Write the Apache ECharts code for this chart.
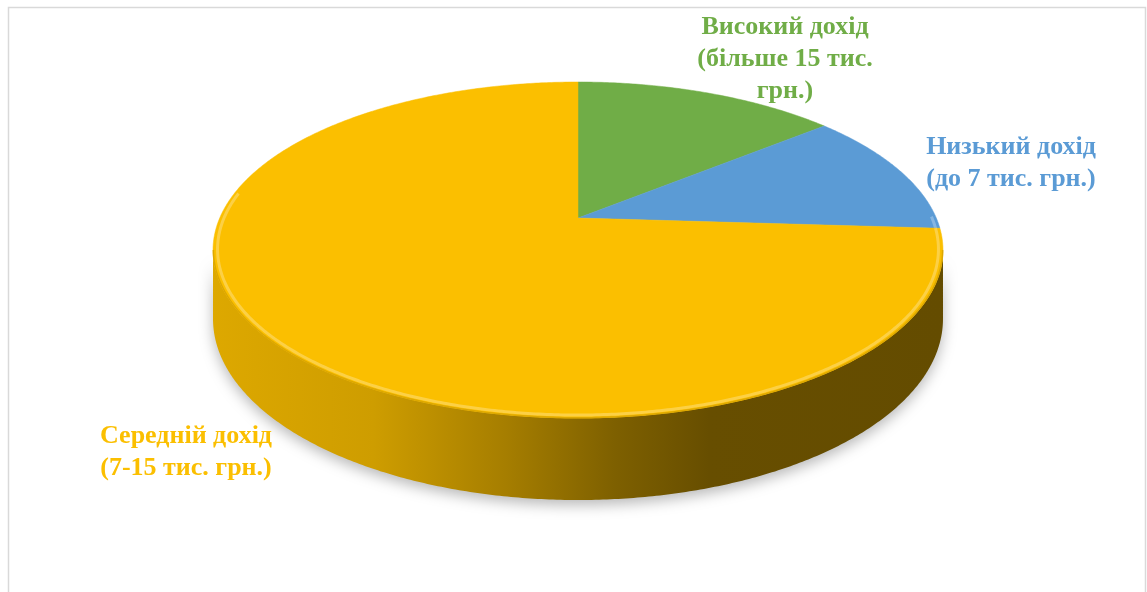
<!DOCTYPE html>
<html>
<head>
<meta charset="utf-8">
<script src="https://cdn.jsdelivr.net/npm/echarts@6/dist/echarts.min.js"></script>
<style>
  html, body { margin: 0; padding: 0; background: #ffffff; }
  #chart { width: 1147px; height: 592px; }
</style>
</head>
<body>
<div id="chart"></div>
<script>
// ---- data ----
const categories = ['Високий дохід (більше 15 тис. грн.)', 'Низький дохід (до 7 тис. грн.)', 'Середній дохід (7-15 тис. грн.)'];
const values = [14, 12, 74];
const labelLines = [
  ['Високий дохід', '(більше 15 тис.', 'грн.)'],
  ['Низький дохід', '(до 7 тис. грн.)'],
  ['Середній дохід', '(7-15 тис. грн.)']
];

// ---- style / layout ----
const colors = ['#70AD47', '#5B9BD5', '#FBBF00'];
const labelPos = [[785, 11], [1011, 131], [186, 420]];
const CX = 578, CY = 218, K = 358.3, M = 161.9, P = 0.1905, D = 66.4;

function proj(a, z, r) {
  r = r == null ? 1 : r;
  const u = r * Math.sin(a), v = r * Math.cos(a);
  const w = 1 + P * v;
  return [CX + K * u / w, CY - M * v / w + D * z / w];
}
function arc(a0, a1, z, r) {
  const pts = [];
  const n = Math.max(2, Math.ceil((a1 - a0) / (Math.PI / 360)));
  for (let i = 0; i <= n; i++) pts.push(proj(a0 + (a1 - a0) * i / n, z, r));
  return pts;
}
function shade(hex, f) {
  const n = parseInt(hex.slice(1), 16);
  const r = Math.round(((n >> 16) & 255) * f), g = Math.round(((n >> 8) & 255) * f), b = Math.round((n & 255) * f);
  return 'rgb(' + Math.min(255, r) + ',' + Math.min(255, g) + ',' + Math.min(255, b) + ')';
}
function lighten(hex, f) {
  const n = parseInt(hex.slice(1), 16);
  const c = [(n >> 16) & 255, (n >> 8) & 255, n & 255].map(x => Math.round(x + (255 - x) * f));
  return 'rgb(' + c.join(',') + ')';
}
const total = values.reduce((s, v) => s + v, 0);
function sliceAngles(i) {
  let acc = 0;
  for (let j = 0; j < i; j++) acc += values[j];
  return [acc / total * 2 * Math.PI, (acc + values[i]) / total * 2 * Math.PI];
}
const aR = Math.acos(-P), aL = 2 * Math.PI - aR;

function renderSide(params, api) {
  const i = params.dataIndex;
  const [a0, a1] = sliceAngles(i);
  const s0 = Math.max(a0, aR), s1 = Math.min(a1, aL);
  if (s1 <= s0) return { type: 'group', children: [] };
  const top = arc(s0, s1, 0);
  const bot = arc(s0, s1, 1).reverse();
  const xl = proj(aL, 0)[0], xr = proj(aR, 0)[0];
  const c = colors[i];
  const grad = new echarts.graphic.LinearGradient(xl, 0, xr, 0, [
    { offset: 0, color: shade(c, 0.88) },
    { offset: 0.22, color: shade(c, 0.82) },
    { offset: 0.4, color: shade(c, 0.66) },
    { offset: 0.55, color: shade(c, 0.5) },
    { offset: 0.68, color: shade(c, 0.41) },
    { offset: 1, color: shade(c, 0.4) }
  ], true);
  return {
    type: 'polygon',
    shape: { points: top.concat(bot) },
    style: { fill: grad, shadowBlur: 14, shadowColor: 'rgba(0,0,0,0.28)', shadowOffsetY: 5 }
  };
}

function renderTop(params, api) {
  const i = params.dataIndex;
  const [a0, a1] = sliceAngles(i);
  const pts = [[CX, CY]].concat(arc(a0, a1, 0));
  const children = [{
    type: 'polygon',
    shape: { points: pts },
    style: { fill: colors[i], stroke: colors[i], lineWidth: 0.5 }
  }];
  const s0 = Math.max(a0, aR - 0.2), s1 = Math.min(a1, aL + 0.35);
  if (s1 > s0) {
    children.push({
      type: 'polyline',
      shape: { points: arc(s0, s1, 0, 0.988) },
      style: { fill: null, stroke: lighten(colors[i], 0.3), lineWidth: 3, opacity: 0.9 }
    });
  }
  const e0 = Math.max(a0, aR), e1 = Math.min(a1, aL);
  if (e1 > e0) {
    children.push({
      type: 'polyline',
      shape: { points: arc(e0, e1, 0, 0.999) },
      style: { fill: null, stroke: shade(colors[i], 0.88), lineWidth: 1.5 }
    });
  }
  return { type: 'group', children: children };
}

const chart = echarts.init(document.getElementById('chart'), null, { renderer: 'canvas' });
const graphics = [{
  type: 'rect', silent: true,
  shape: { x: 8.5, y: 7.5, width: 1137, height: 620 },
  style: { fill: null, stroke: '#d9d9d9', lineWidth: 1.5 }
}];
labelLines.forEach((lines, i) => {
  graphics.push({
    type: 'text', silent: true, z: 10,
    x: labelPos[i][0], y: labelPos[i][1],
    style: {
      text: lines.join('\n'),
      font: 'bold 26px "Liberation Serif", "Times New Roman", serif',
      lineHeight: 32,
      fill: colors[i],
      align: 'center',
      verticalAlign: 'top'
    }
  });
});

chart.setOption({
  animation: false,
  backgroundColor: '#ffffff',
  graphic: graphics,
  series: [
    { type: 'custom', name: 'side', coordinateSystem: 'none', silent: true, z: 1,
      data: values.map((v, i) => ({ value: v, name: categories[i] })), renderItem: renderSide },
    { type: 'custom', name: 'top', coordinateSystem: 'none', silent: true, z: 2,
      data: values.map((v, i) => ({ value: v, name: categories[i] })), renderItem: renderTop }
  ]
});
</script>
</body>
</html>
